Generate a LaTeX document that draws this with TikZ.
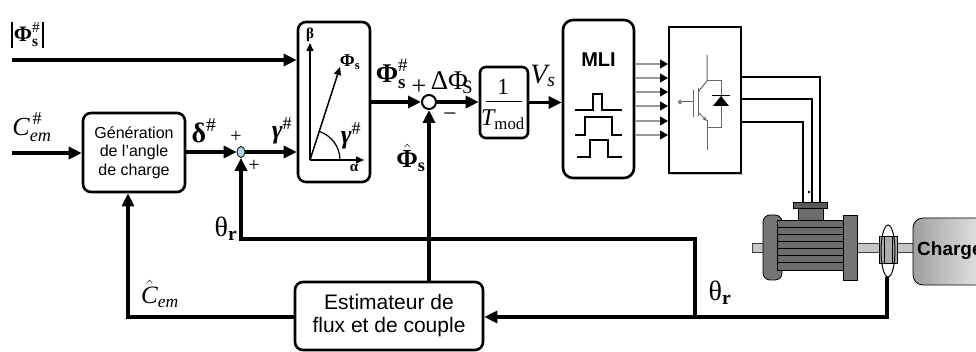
\documentclass[tikz,border=0pt]{standalone}
\usepackage{fontspec}
\setmainfont{Liberation Serif}
\setsansfont{Liberation Sans}
\usepackage{amsmath}
\usetikzlibrary{arrows.meta,shapes.geometric}
\definecolor{sumc}{RGB}{170,215,225}
\newcommand{\myfs}[1]{\fontsize{#1}{#1}\selectfont}
\begin{document}
\begin{tikzpicture}[x=1pt,y=-1pt,
  blk/.style={draw,line width=2.6pt,rounded corners=8pt,align=center,inner sep=0pt},
  arr/.style={line width=3.2pt,-{Triangle[length=13pt,width=12pt]}},
  ln/.style={line width=3.2pt},
  sarr/.style={draw=gray!80,line width=1.2pt,-{Triangle[length=8pt,width=9pt,color=black]}},
  wire/.style={line width=1.5pt},
  igbt/.style={draw=gray!80!black,line width=1pt},
  vec/.style={line width=1.5pt,-{Triangle[length=8pt,width=7pt]}},
  lab/.style={inner sep=0pt}
]
\path[use as bounding box] (0,0) rectangle (976,352);
\clip (0,0) rectangle (976,352);

% ---------- blocks ----------
\node[blk, minimum width=102pt, minimum height=79pt, font=\sffamily\fontsize{16}{18.5}\selectfont] (gen) at (134,152.5) {Génération\\de l’angle\\de charge};
\node[blk, minimum width=72pt, minimum height=160pt] (clarke) at (334,102) {};
\node[blk, rounded corners=6pt, minimum width=48pt, minimum height=71pt] (tmod) at (504,102.5) {};
\node[blk, rounded corners=10pt, minimum width=71pt, minimum height=158pt] (mli) at (598.5,99) {};
\node[draw, line width=2pt, minimum width=72pt, minimum height=146pt, inner sep=0pt] (inv) at (705,100) {};
\node[blk, minimum width=188pt, minimum height=68pt, font=\sffamily\fontsize{21}{23}\selectfont] (est) at (389,316) {Estimateur de\\flux et de couple};

% summing junctions
\node[ellipse, draw, line width=0.8pt, minimum width=8pt, minimum height=11pt, inner sep=0pt, fill=sumc] (s1) at (241,152) {};
\node[circle, draw, line width=2pt, minimum size=14pt, inner sep=0pt, fill=white] (s2) at (429,102) {};

% ---------- inputs ----------
\coordinate (in1) at (12,60);
\coordinate (in2) at (12,153);
\draw[arr] (in1) -- (in1 -| clarke.west);
\draw[arr] (in2) -- (in2 -| gen.west);
\draw[arr] (gen.east |- s1) -- (s1.west);
\draw[arr] (s1.east) -- (s1 -| clarke.west);
\draw[arr] (clarke.east |- s2) -- (s2.west);
\draw[arr] (s2.east) -- (s2 -| tmod.west);
\draw[arr] (tmod.east) -- (tmod.east -| mli.west);

% estimator feedbacks
\draw[arr] (s2 |- est.north) -- (s2.south);
\coordinate (cbot) at (128,317);
\draw[arr] (est.west |- cbot) -- (cbot) -- (cbot |- gen.south);
\coordinate (j1) at (695,317);
\coordinate (j2) at (695,239);
\draw[arr] (j1) -- (j2) -- (j2 -| s1) -- (s1.south);
\coordinate (enc) at (887,277);
\coordinate (encb) at (887,317);
\draw[ln] (enc) -- (encb) -- (j1);
\draw[arr] (j1) -- (j1 -| est.east);

% ---------- Clarke vector diagram ----------
\coordinate (o) at (310,160);
\draw[vec] (o) -- (310,43);
\draw[vec] (o) -- (364,160);
\draw[vec] (o) -- (340,67);
\draw[line width=1.2pt] ([shift={(30pt,0pt)}]o) arc[start angle=0,end angle=72,radius=30pt];
\node[lab,font=\bfseries\myfs{15}] at (310,35) {β};
\node[lab,font=\bfseries\myfs{15}] at (354,168) {α};
\node[lab,font=\myfs{18}] at (350,62) {$\text{\textbf{Φ}}_{\text{\textbf{s}}}$};
\node[lab,font=\myfs{26}] at (351,136) {$\text{\textbf{\textit{γ}}}^{\#}$};

% ---------- Tmod contents ----------
\node[lab,font=\myfs{23}] at (503,87) {1};
\draw[line width=1pt] (486,102) -- (522,102);
\node[lab,font=\myfs{24}] at (503,120) {$\textit{T}_{\text{mod}}$};

% ---------- MLI contents ----------
\node[lab,font=\sffamily\bfseries\myfs{20}] at (598.5,60) {MLI};
\draw[line width=1.3pt] (575,110) -- (593,110) -- (593,94) -- (602,94) -- (602,110) -- (622,110);
\draw[line width=1.3pt] (575,135) -- (585,135) -- (585,117) -- (612,117) -- (612,135) -- (622,135);
\draw[line width=1.3pt] (577,157) -- (590,157) -- (590,140) -- (608,140) -- (608,157) -- (622,157);

% six gate signals
\foreach \yy in {64,78,92,106,121,135}{
  \draw[sarr] (636,\yy) -- (inv.west |- 0,\yy);
}

% ---------- inverter contents (IGBT + diode) ----------
\draw[igbt] (707,55) -- (707,81) -- (698,92);
\draw[igbt,-{Stealth[length=5pt,width=4pt]}] (698,112) -- (707,121);
\draw[igbt] (707,120) -- (707,150);
\draw[igbt] (698,88) -- (698,116);
\draw[igbt] (693,90) -- (693,117);
\draw[igbt] (681,102) -- (693,102);
\draw[igbt,fill=white] (680,102) circle (1.6pt);
\draw[igbt] (707,81) -- (721,81) -- (721,128) -- (707,128);
\fill (713,106) -- (729,106) -- (721,96) -- cycle;
\draw[line width=1pt] (712,96) -- (730,96);
\draw[gray!50,line width=1pt] (669,175) -- (743,175);

% ---------- wires to motor ----------
\draw[wire] (inv.east |- 0,77) -- (820,77) -- (820,202);
\draw[wire] (inv.east |- 0,99) -- (812,99) -- (812,202);
\draw[wire] (inv.east |- 0,122) -- (803,122) -- (803,202);
\fill (809,192) circle (1.3pt);

% ---------- motor ----------
\draw[gray!50!black,fill=gray!45,line width=0.6pt] (752,243) rectangle (766,252);
\draw[gray!50!black,fill=gray!45,line width=0.6pt] (855,243) rectangle (914,252);
\draw[black,fill=gray!80!black!90,line width=0.8pt,rounded corners=7pt] (763,215) rectangle (782,280);
\draw[black,fill=gray!85!black,line width=0.8pt] (777,220) rectangle (845,270);
\foreach \yy in {227,234,241,248,255,262}{
  \draw[black,line width=0.8pt] (778,\yy) -- (844,\yy);
}
\draw[black,fill=gray!80!black!90,line width=0.8pt] (843,215) rectangle (857,280);
\draw[black,fill=gray!85!black,line width=0.8pt] (798,207) rectangle (823,220);
\draw[black,fill=gray!70!black,line width=0.8pt] (793,202) rectangle (827,208);
\draw[black,fill=gray!65,line width=0.8pt] (879,236) rectangle (897,263);
\draw[black,line width=0.6pt] (884,236) -- (884,263) (892,236) -- (892,263);
\draw[black,line width=1pt] (888,251) ellipse [x radius=7pt,y radius=26pt];
\draw[black,line width=0.8pt,rounded corners=10pt,left color=gray!75,right color=white] (913,218) rectangle (1010,285);
\node[lab,anchor=west,font=\sffamily\bfseries\myfs{19}] at (917,251) {Charge};

% ---------- labels ----------
\draw[line width=1.2pt] (12,22) -- (12,48) (43,22) -- (43,48);
\node[lab,font=\myfs{22}] at (27,35) {$\text{\textbf{Φ}}^{\#}_{\text{\textbf{s}}}$};
\node[lab,font=\myfs{26}] at (32,127) {$\textit{C}^{\,\#}_{\textit{em}}$};
\node[lab,font=\myfs{28}] at (204,131) {$\text{\textbf{δ}}^{\#}$};
\node[lab,font=\myfs{20}] at (236,137) {+};
\node[lab,font=\myfs{20}] at (254,166) {+};
\node[lab,font=\myfs{26}] at (282,131) {$\text{\textbf{\textit{γ}}}^{\#}$};
\node[lab,font=\myfs{28}] at (226,229) {$\text{θ}_{\text{\textbf{r}}}$};
\node[lab,font=\myfs{27}] at (392,74) {$\text{\textbf{Φ}}^{\#}_{\text{\textbf{s}}}$};
\node[lab,font=\myfs{26}] at (419,87) {+};
\node[lab,font=\myfs{27}] at (452,83) {$\text{ΔΦ}_{\!\!\text{S}}$};
\node[lab,font=\myfs{24}] at (450,117) {−};
\node[lab,font=\myfs{26}] at (411,158) {$\hat{\text{\textbf{Φ}}}_{\text{\textbf{s}}}$};
\node[lab,font=\myfs{28}] at (543,76) {$\textit{V}_{\textit{s}}$};
\node[lab,font=\myfs{25}] at (160,294) {$\hat{\textit{C}}_{\textit{em}}$};
\node[lab,font=\myfs{28}] at (720,293) {$\text{θ}_{\text{\textbf{r}}}$};
\end{tikzpicture}
\end{document}
